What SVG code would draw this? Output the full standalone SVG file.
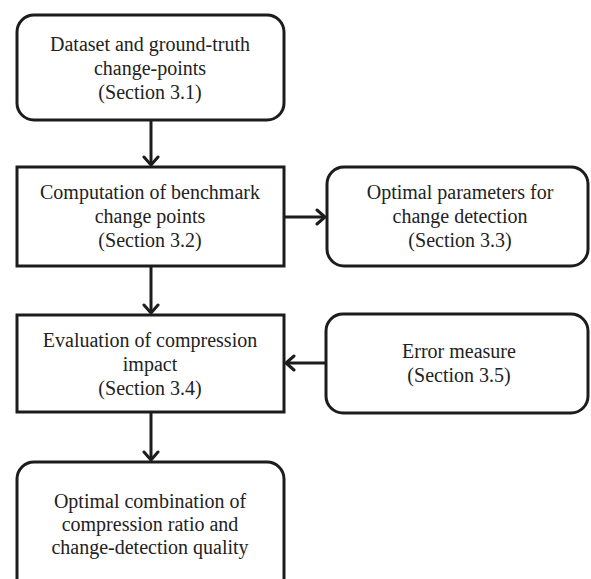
<svg xmlns="http://www.w3.org/2000/svg" width="591" height="579" viewBox="0 0 591 579">
  <style>
    .box { fill: #ffffff; stroke: #1c1c1c; stroke-width: 3; }
    .lbl { font-family: "Liberation Serif", "Times New Roman", serif; font-size: 20px; fill: #222222; text-anchor: middle; }
    .conn { stroke: #1c1c1c; stroke-width: 3; fill: none; marker-end: url(#arr); }
  </style>
  <defs>
    <marker id="arr" markerUnits="userSpaceOnUse" markerWidth="20" markerHeight="20" refX="10" refY="10" orient="auto" viewBox="0 0 20 20">
      <path d="M2,3 L10,10 L2,17" fill="none" stroke="#1c1c1c" stroke-width="3" stroke-linecap="round" stroke-linejoin="miter"/>
    </marker>
  </defs>
  <rect width="591" height="579" fill="#ffffff"/>

  <g id="connectors">
    <line class="conn" x1="151" y1="120" x2="151" y2="165"/>
    <line class="conn" x1="151" y1="266" x2="151" y2="313"/>
    <line class="conn" x1="151" y1="412" x2="151" y2="460"/>
    <line class="conn" x1="284" y1="217" x2="325" y2="217"/>
    <line class="conn" x1="326" y1="363" x2="286" y2="363"/>
  </g>

  <g id="n1">
    <rect class="box" x="17" y="15" width="267" height="105" rx="17" ry="17"/>
    <text class="lbl" x="150" y="51">Dataset and ground-truth</text>
    <text class="lbl" x="150" y="75">change-points</text>
    <text class="lbl" x="150" y="99">(Section 3.1)</text>
  </g>

  <g id="n2">
    <rect class="box" x="17" y="167" width="267" height="99"/>
    <text class="lbl" x="150" y="199">Computation of benchmark</text>
    <text class="lbl" x="150" y="223">change points</text>
    <text class="lbl" x="150" y="247">(Section 3.2)</text>
  </g>

  <g id="n3">
    <rect class="box" x="327" y="167" width="261" height="99" rx="17" ry="17"/>
    <text class="lbl" x="460" y="199">Optimal parameters for</text>
    <text class="lbl" x="460" y="223">change detection</text>
    <text class="lbl" x="460" y="247">(Section 3.3)</text>
  </g>

  <g id="n4">
    <rect class="box" x="17" y="315" width="267" height="97"/>
    <text class="lbl" x="150" y="347">Evaluation of compression</text>
    <text class="lbl" x="150" y="371">impact</text>
    <text class="lbl" x="150" y="395">(Section 3.4)</text>
  </g>

  <g id="n5">
    <rect class="box" x="326" y="314" width="262" height="99" rx="17" ry="17"/>
    <text class="lbl" x="459" y="358">Error measure</text>
    <text class="lbl" x="459" y="382">(Section 3.5)</text>
  </g>

  <g id="n6">
    <rect class="box" x="17" y="462" width="267" height="140" rx="17" ry="17"/>
    <text class="lbl" x="150" y="508">Optimal combination of</text>
    <text class="lbl" x="150" y="531">compression ratio and</text>
    <text class="lbl" x="150" y="554">change-detection quality</text>
  </g>
</svg>
